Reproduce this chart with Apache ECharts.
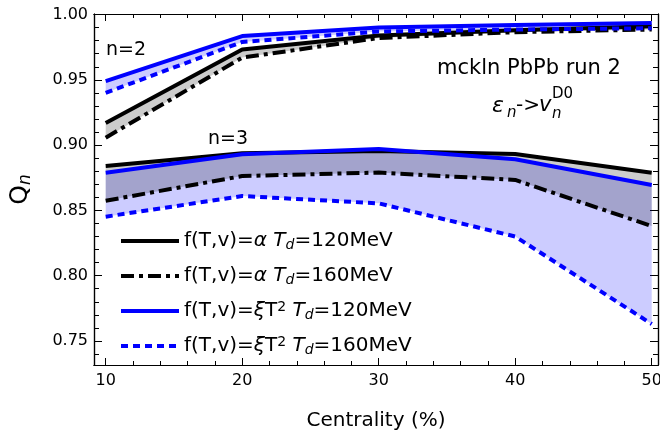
<!DOCTYPE html>
<html>
<head>
<meta charset="utf-8">
<script src="https://cdn.jsdelivr.net/npm/echarts@6/dist/echarts.min.js"></script>
<style>
html,body{margin:0;padding:0;background:#fff;}
#c{width:660px;height:436px;}
</style>
</head>
<body>
<div id="c"></div>
<script>
// ---- data ----
const centrality = [10, 20, 30, 40, 50];
// n = 2
const q2Alpha120 = [0.917, 0.9733, 0.984, 0.988, 0.991];
const q2Alpha160 = [0.9057, 0.967, 0.982, 0.9865, 0.9885];
const q2Xi120 = [0.949, 0.9835, 0.990, 0.992, 0.9935];
const q2Xi160 = [0.940, 0.979, 0.987, 0.9885, 0.9895];
// n = 3
const q3Alpha120 = [0.884, 0.8937, 0.8955, 0.8932, 0.8789];
const q3Alpha160 = [0.8574, 0.8763, 0.879, 0.8733, 0.838];
const q3Xi120 = [0.8789, 0.893, 0.897, 0.8891, 0.8695];
const q3Xi160 = [0.8452, 0.861, 0.8554, 0.830, 0.763];
// ticks
const xMajorTicks = [10, 20, 30, 40, 50];
const xMinorTicks = [12, 14, 16, 18, 22, 24, 26, 28, 32, 34, 36, 38, 42, 44, 46, 48];
const yMajorTicks = [0.75, 0.80, 0.85, 0.90, 0.95, 1.00];
const yMinorTicks = [0.74, 0.76, 0.77, 0.78, 0.79, 0.81, 0.82, 0.83, 0.84, 0.86, 0.87, 0.88, 0.89, 0.91, 0.92, 0.93, 0.94, 0.96, 0.97, 0.98, 0.99];

const NAME_A120 = 'f(T,v)=α Td=120MeV';
const NAME_A160 = 'f(T,v)=α Td=160MeV';
const NAME_X120 = 'f(T,v)=ξT2 Td=120MeV';
const NAME_X160 = 'f(T,v)=ξT2 Td=160MeV';
const legendRich = {};
legendRich[NAME_A120] = 'f(T,v)={i|α} {i|T}{sub|d}=120MeV';
legendRich[NAME_A160] = 'f(T,v)={i|α} {i|T}{sub|d}=160MeV';
legendRich[NAME_X120] = 'f(T,v)={i|ξ}T{sup|2} {i|T}{sub|d}=120MeV';
legendRich[NAME_X160] = 'f(T,v)={i|ξ}T{sup|2} {i|T}{sub|d}=160MeV';

const FONT = 'DejaVu Sans';
const pairs = (ys) => centrality.map((x, i) => [x, ys[i]]);

const DASHDOT = [13, 5, 4, 5];
const DASH = [7, 5];

// band between two curves, drawn as one polygon through the axis scales
function band(id, hi, lo, color) {
  const rows = centrality.map((x, i) => [x, hi[i], lo[i]]);
  return {
    name: id, type: 'custom', silent: true, z: 1,
    data: rows,
    encode: { x: 0, y: [1, 2] },
    renderItem: function (params, api) {
      if (params.dataIndex !== 0) return null;
      const top = rows.map(r => api.coord([r[0], r[1]]));
      const bot = rows.slice().reverse().map(r => api.coord([r[0], r[2]]));
      return { type: 'polygon', shape: { points: top.concat(bot) }, style: { fill: color, stroke: null } };
    }
  };
}
function line(name, ys, color, type) {
  return { name: name, type: 'line', data: pairs(ys), symbol: 'none', z: 3,
    lineStyle: { color: color, width: 4, type: type, cap: 'butt' }, itemStyle: { color: color } };
}

const GRAY = 'rgba(0,0,0,0.2)';
const LBLUE = 'rgba(0,0,255,0.2)';

const series = [
  band('b2x', q2Xi120, q2Xi160, LBLUE),
  band('b3x', q3Xi120, q3Xi160, LBLUE),
  band('b2a', q2Alpha120, q2Alpha160, GRAY),
  band('b3a', q3Alpha120, q3Alpha160, GRAY),
  line(NAME_A120, q2Alpha120, '#000', 'solid'),
  line(NAME_A120, q3Alpha120, '#000', 'solid'),
  line(NAME_A160, q2Alpha160, '#000', DASHDOT),
  line(NAME_A160, q3Alpha160, '#000', DASHDOT),
  line(NAME_X120, q2Xi120, '#0000ff', 'solid'),
  line(NAME_X120, q3Xi120, '#0000ff', 'solid'),
  line(NAME_X160, q2Xi160, '#0000ff', DASH),
  line(NAME_X160, q3Xi160, '#0000ff', DASH)
];

const XMIN = 9.143, XMAX = 50.46, YMIN = 0.7316, YMAX = 1.0004;
const axLine = { show: true, lineStyle: { color: '#000', width: 1.2 } };
function xAx(pos, vals, len, labels) {
  return { type: 'value', position: pos, min: XMIN, max: XMAX, axisLine: axLine,
    splitLine: { show: false },
    axisTick: { show: true, inside: true, length: len, customValues: vals, lineStyle: { color: '#000', width: 1 } },
    axisLabel: labels ? { show: true, customValues: vals, fontSize: 16, fontFamily: FONT, color: '#000', margin: 8 } : { show: false }
  };
}
function yAx(pos, vals, len, labels) {
  return { type: 'value', position: pos, min: YMIN, max: YMAX, axisLine: axLine,
    splitLine: { show: false },
    axisTick: { show: true, inside: true, length: len, customValues: vals, lineStyle: { color: '#000', width: 1 } },
    axisLabel: labels ? { show: true, customValues: vals, fontSize: 16, fontFamily: FONT, color: '#000', margin: 6,
      formatter: (v) => v.toFixed(2) } : { show: false }
  };
}

const xAxes = [xAx('bottom', xMajorTicks, 7, true), xAx('top', xMajorTicks, 7, false),
  xAx('bottom', xMinorTicks, 4, false), xAx('top', xMinorTicks, 4, false)];
xAxes[0].name = 'Centrality (%)';
xAxes[0].nameLocation = 'middle';
xAxes[0].nameGap = 46;
xAxes[0].nameTextStyle = { fontSize: 20, fontFamily: FONT, color: '#000' };

const yAxes = [yAx('left', yMajorTicks, 8, true), yAx('right', yMajorTicks, 8, false),
  yAx('left', yMinorTicks, 5, false), yAx('right', yMinorTicks, 5, false)];
yAxes[0].name = '{q|Q}{n|n}';
yAxes[0].nameLocation = 'middle';
yAxes[0].nameRotate = 90;
yAxes[0].nameGap = 60;
yAxes[0].nameTextStyle = { fontSize: 24, fontFamily: FONT, color: '#000',
  rich: { q: { fontSize: 25, fontFamily: FONT, color: '#000', lineHeight: 28 },
          n: { fontSize: 17, fontFamily: FONT, fontStyle: 'italic', color: '#000', verticalAlign: 'bottom', lineHeight: 12 } } };

const tstyle = (o) => Object.assign({ fontFamily: FONT, fill: '#000', textAlign: 'center', textVerticalAlign: 'middle', verticalAlign: 'middle' }, o);

const option = {
  animation: false,
  backgroundColor: '#fff',
  grid: { left: 94, right: 2, top: 14, bottom: 71, containLabel: false, outerBoundsMode: 'none' },
  xAxis: xAxes,
  yAxis: yAxes,
  legend: {
    data: [NAME_A120, NAME_A160, NAME_X120, NAME_X160],
    orient: 'vertical', left: 119, top: 230, padding: 0, itemGap: 13,
    itemWidth: 58, itemHeight: 14,
    selectedMode: false,
    lineStyle: { width: 4 },
    itemStyle: { color: 'rgba(0,0,0,0)', borderWidth: 0 },
    formatter: (n) => legendRich[n],
    textStyle: { fontSize: 20, fontFamily: FONT, color: '#000', lineHeight: 22,
      rich: {
        i: { fontSize: 20, fontFamily: FONT, fontStyle: 'italic', color: '#000', lineHeight: 22 },
        sub: { fontSize: 14, fontFamily: FONT, fontStyle: 'italic', color: '#000', verticalAlign: 'bottom', lineHeight: 10 },
        sup: { fontSize: 14, fontFamily: FONT, color: '#000', verticalAlign: 'top', lineHeight: 10 }
      } }
  },
  graphic: [
    { type: 'text', x: 126, y: 50, style: tstyle({ text: 'n=2', fontSize: 19 }) },
    { type: 'text', x: 228, y: 139, style: tstyle({ text: 'n=3', fontSize: 19 }) },
    { type: 'text', x: 529, y: 69, style: tstyle({ text: 'mckln PbPb run 2', fontSize: 21 }) },
    { type: 'text', x: 492, y: 106, style: tstyle({ text: 'ε', fontSize: 22, fontStyle: 'italic', textAlign: 'left' }) },
    { type: 'text', x: 507, y: 113, style: tstyle({ text: 'n', fontSize: 15, fontStyle: 'italic', textAlign: 'left' }) },
    { type: 'text', x: 516, y: 106, style: tstyle({ text: '->', fontSize: 20, textAlign: 'left' }) },
    { type: 'text', x: 539, y: 106, style: tstyle({ text: 'v', fontSize: 21, fontStyle: 'italic', textAlign: 'left' }) },
    { type: 'text', x: 552, y: 114, style: tstyle({ text: 'n', fontSize: 15, fontStyle: 'italic', textAlign: 'left' }) },
    { type: 'text', x: 552, y: 94, style: tstyle({ text: 'D0', fontSize: 15, textAlign: 'left' }) }
  ],
  series: series
};

const chart = echarts.init(document.getElementById('c'), null, { renderer: 'canvas' });
chart.setOption(option);
</script>
</body>
</html>
